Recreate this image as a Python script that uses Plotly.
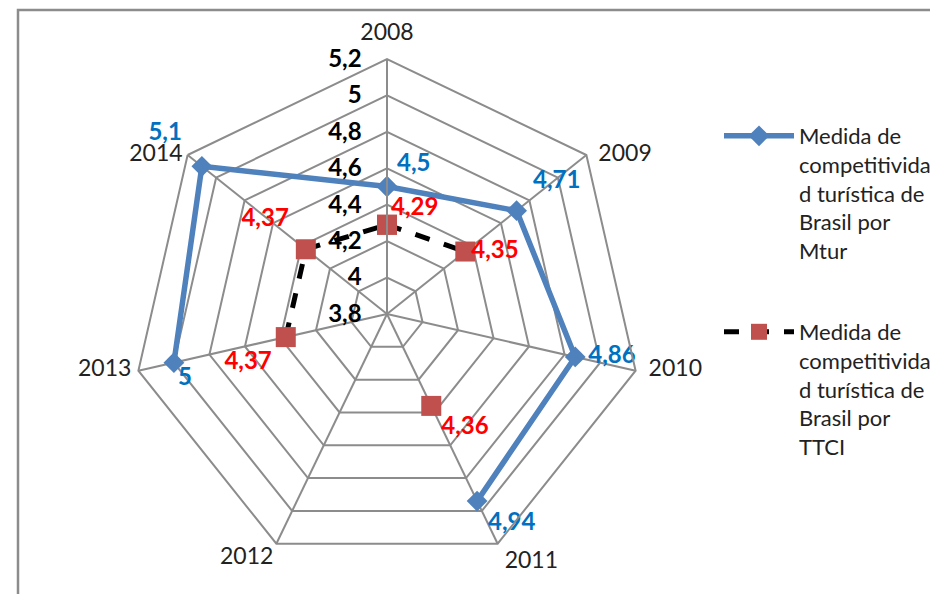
import plotly.graph_objects as go

years = ["2008", "2009", "2010", "2011", "2012", "2013", "2014"]
mtur = [4.5, 4.71, 4.86, 4.94, None, 5.0, 5.1]
ttci = [4.29, 4.35, None, 4.36, None, 4.37, 4.37]
mtur_labels = ["4,5", "4,71", "4,86", "4,94", "", "5", "5,1"]
ttci_labels = ["4,29", "4,35", "", "4,36", "", "4,37", "4,37"]
radial_ticks = [3.8, 4.0, 4.2, 4.4, 4.6, 4.8, 5.0, 5.2]
radial_ticktext = ["3,8", "4", "4,2", "4,4", "4,6", "4,8", "5", "5,2"]

name_mtur = "Medida de<br>competitivida<br>d turística de<br>Brasil por<br>Mtur"
name_ttci = "Medida de<br>competitivida<br>d turística de<br>Brasil por<br>TTCI"

# label placement (style only): text position and offset from the point
mtur_pos = ["top right", "top right", "middle right", "bottom right", "top center", "bottom right", "top left"]
mtur_off = [14.4, 24.8, 19.2, 16, 0, 4.8, 30.4]
ttci_pos = ["top right", "middle right", "top center", "bottom right", "top center", "bottom left", "top left"]
ttci_off = [4.8, 8, 0, 14.4, 0, 20.8, 25.6]
cat_pos = ["top center", "middle right", "middle right", "bottom right", "bottom left", "middle left", "middle left"]
cat_off = [20, 17.6, 19.2, 9.6, 3.2, 9.6, 6.4]

FONT = "Lato"

def closed(vals):
    return list(vals) + [vals[0]]

fig = go.Figure()
fig.add_trace(go.Scatterpolar(
    r=closed(mtur), theta=closed(years), name=name_mtur,
    mode="lines+markers", connectgaps=False,
    line=dict(color="#4F81BD", width=5.5),
    marker=dict(symbol="diamond", size=16, color="#4F81BD"),
    legendgroup="a", cliponaxis=False,
))
fig.add_trace(go.Scatterpolar(
    r=closed(ttci), theta=closed(years), name=name_ttci,
    mode="lines+markers", connectgaps=False,
    line=dict(color="black", width=5, dash="dash"),
    marker=dict(symbol="square", size=20, color="#C0504D"),
    legendgroup="b", cliponaxis=False,
))
# data labels
fig.add_trace(go.Scatterpolar(
    r=mtur, theta=years, mode="markers+text",
    text=mtur_labels, textposition=mtur_pos,
    marker=dict(size=mtur_off, opacity=0, color="white"),
    textfont=dict(family=FONT, size=24, color="#0070C0", weight="bold"),
    showlegend=False, hoverinfo="skip", cliponaxis=False,
))
fig.add_trace(go.Scatterpolar(
    r=ttci, theta=years, mode="markers+text",
    text=ttci_labels, textposition=ttci_pos,
    marker=dict(size=ttci_off, opacity=0, color="white"),
    textfont=dict(family=FONT, size=24, color="#FF0000", weight="bold"),
    showlegend=False, hoverinfo="skip", cliponaxis=False,
))
# category labels placed at the outer ring of the radial scale
fig.add_trace(go.Scatterpolar(
    r=[max(radial_ticks)] * len(years), theta=years,
    mode="markers+text", text=years, textposition=cat_pos,
    marker=dict(size=cat_off, opacity=0, color="white"),
    textfont=dict(family=FONT, size=23, color="#222222"),
    showlegend=False, hoverinfo="skip", cliponaxis=False,
))

grid = "#8C8C8C"
fig.update_layout(
    width=938, height=594,
    margin=dict(l=0, r=0, t=0, b=0),
    paper_bgcolor="white",
    font=dict(family=FONT, size=22, color="#222222"),
    polar=dict(
        domain=dict(x=[124/938, 634/938], y=[1 - 561/594, 1 - 51/594]),
        bgcolor="white",
        gridshape="linear",
        angularaxis=dict(
            type="category", categoryorder="array", categoryarray=years,
            rotation=90, direction="clockwise",
            showline=True, linecolor=grid, linewidth=2,
            gridcolor=grid, gridwidth=2,
            ticks="", showticklabels=False,
        ),
        radialaxis=dict(
            range=[3.8, 5.2], angle=90, side="counterclockwise",
            tickvals=radial_ticks, ticktext=radial_ticktext,
            tickfont=dict(family=FONT, size=24, color="black", weight="bold"),
            showline=True, linecolor=grid, linewidth=2,
            gridcolor=grid, gridwidth=2,
            ticks="outside", ticklen=16, tickcolor="rgba(0,0,0,0)",
            tickangle=90,
        ),
    ),
    legend=dict(
        x=711/938, y=1 - 107/594, xanchor="left", yanchor="top",
        font=dict(family=FONT, size=22, color="#222222"),
        valign="top", tracegroupgap=50, itemwidth=70,
        bgcolor="rgba(0,0,0,0)",
    ),
    shapes=[dict(
        type="rect", xref="paper", yref="paper",
        x0=10/938, x1=936.5/938, y0=-0.05, y1=1 - 2/594,
        line=dict(color="#8C8C8C", width=2.5), layer="above",
    )],
)

fig.write_html("out.html")
